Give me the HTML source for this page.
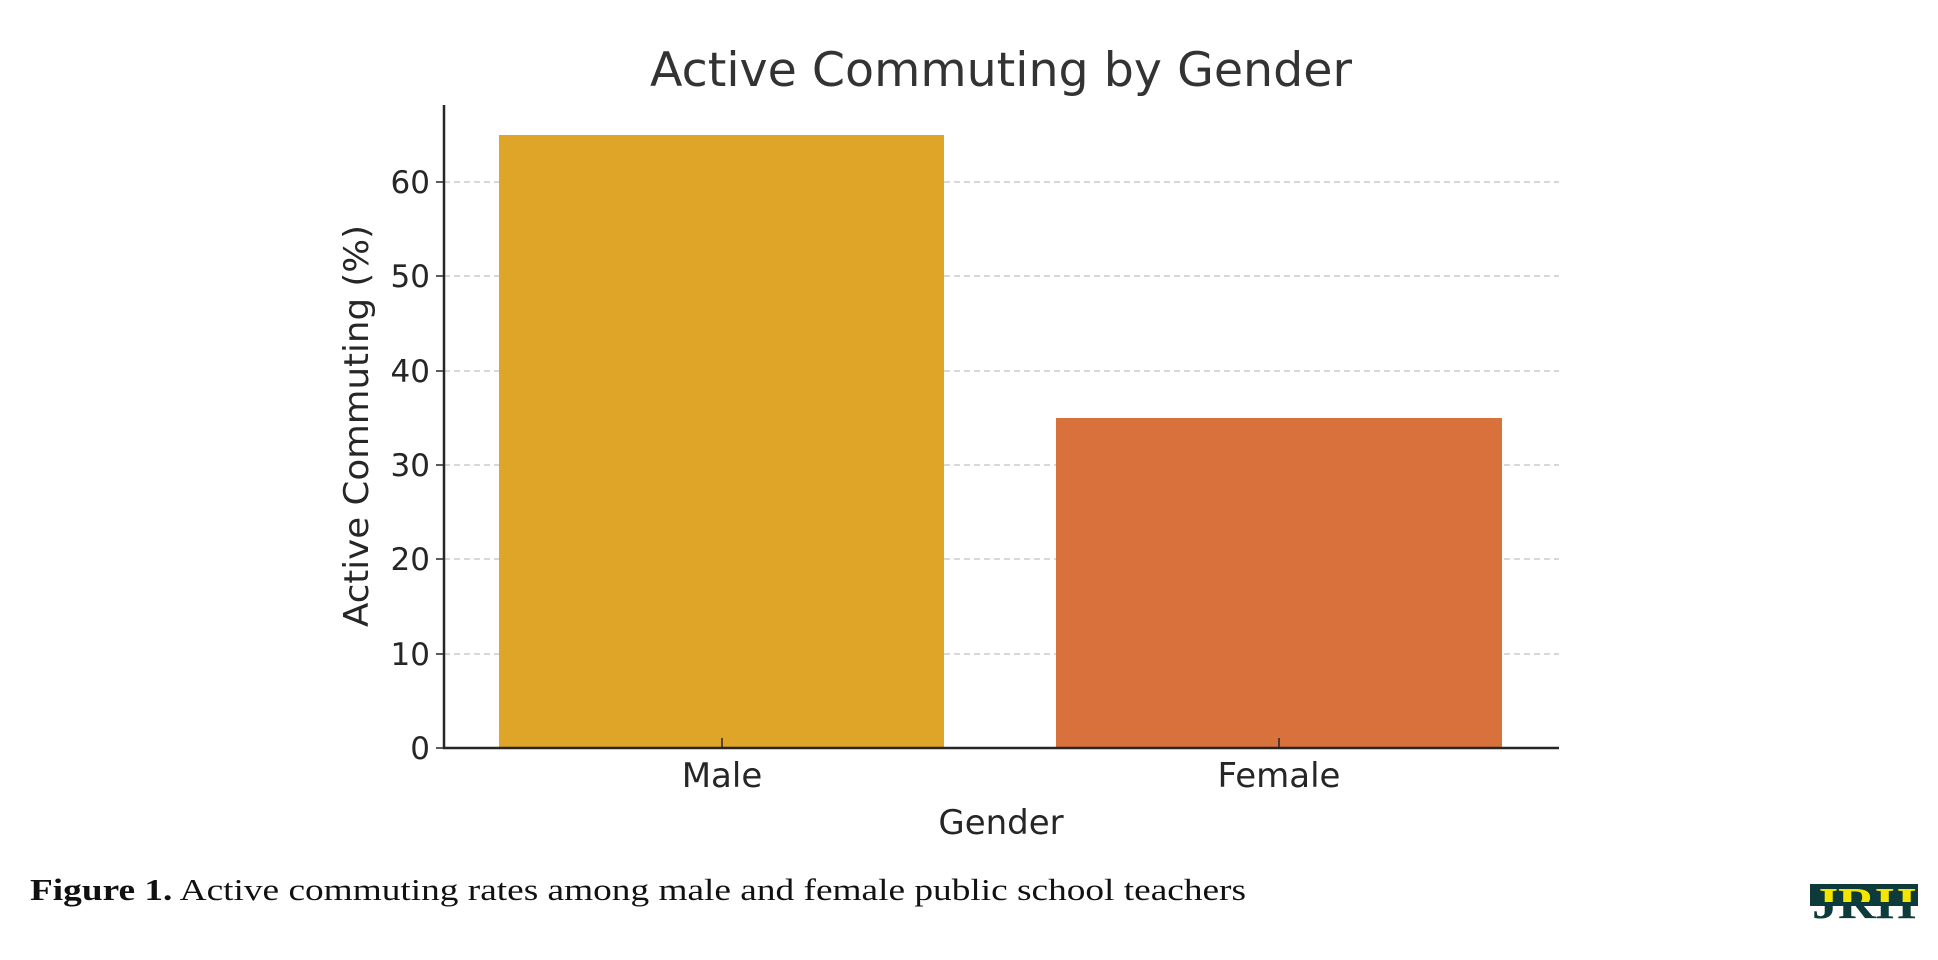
<!DOCTYPE html>
<html><head><meta charset="utf-8"><style>
html,body{margin:0;padding:0;background:#fff;}
body{width:1938px;height:960px;position:relative;overflow:hidden;}
</style></head><body>
<svg width="1938" height="960" viewBox="0 0 1938 960" style="position:absolute;left:0;top:0">
<defs>
<clipPath id="top"><rect x="1800" y="870" width="130" height="32"/></clipPath>
<clipPath id="bot"><rect x="1800" y="902" width="130" height="30"/></clipPath>
</defs>
<g font-family="DejaVu Sans, Liberation Sans, sans-serif" fill="#262626">
<text x="1001" y="86" font-size="47" text-anchor="middle" fill="#333" textLength="702" lengthAdjust="spacingAndGlyphs">Active Commuting by Gender</text>
<g stroke="#ccc" stroke-width="1.5" stroke-dasharray="6,4">
<line x1="444" x2="1559" y1="182" y2="182"/>
<line x1="444" x2="1559" y1="276" y2="276"/>
<line x1="444" x2="1559" y1="371" y2="371"/>
<line x1="444" x2="1559" y1="465" y2="465"/>
<line x1="444" x2="1559" y1="559" y2="559"/>
<line x1="444" x2="1559" y1="654" y2="654"/>
</g>
<rect x="499" y="135" width="445" height="613" fill="#DFA529"/>
<rect x="1056" y="418" width="446" height="330" fill="#D9713C"/>
<g stroke="#262626" stroke-width="2.5">
<line x1="444" y1="105" x2="444" y2="749"/>
<line x1="443" y1="748" x2="1559" y2="748"/>
</g>
<g stroke="#262626" stroke-width="1.5">
<line x1="436" x2="444" y1="182" y2="182"/><line x1="436" x2="444" y1="276" y2="276"/>
<line x1="436" x2="444" y1="371" y2="371"/><line x1="436" x2="444" y1="465" y2="465"/>
<line x1="436" x2="444" y1="559" y2="559"/><line x1="436" x2="444" y1="654" y2="654"/>
<line x1="436" x2="444" y1="748" y2="748"/>
<line x1="722" x2="722" y1="748" y2="738"/><line x1="1279" x2="1279" y1="748" y2="738"/>
</g>
<g font-size="31" text-anchor="end">
<text x="430" y="193">60</text><text x="430" y="287">50</text><text x="430" y="382">40</text>
<text x="430" y="476">30</text><text x="430" y="570">20</text><text x="430" y="665">10</text>
<text x="430" y="759">0</text>
</g>
<g font-size="34" text-anchor="middle">
<text x="722" y="787">Male</text><text x="1279" y="787">Female</text>
<text x="1001" y="834">Gender</text>
<text transform="translate(368,426) rotate(-90)" textLength="402" lengthAdjust="spacingAndGlyphs">Active Commuting (%)</text>
</g>
</g>
<text x="30" y="900" font-family="Liberation Serif, serif" font-size="31" fill="#111" textLength="1216" lengthAdjust="spacingAndGlyphs"><tspan font-weight="bold">Figure 1.</tspan> Active commuting rates among male and female public school teachers</text>
<rect x="1810" y="884" width="108" height="22" fill="#0d3b3b"/>
<text x="1864" y="918" clip-path="url(#top)" font-family="Liberation Serif, serif" font-weight="bold" font-size="44" text-anchor="middle" fill="#f5e600" textLength="104" lengthAdjust="spacingAndGlyphs">JRH</text>
<text x="1864" y="918" clip-path="url(#bot)" font-family="Liberation Serif, serif" font-weight="bold" font-size="44" text-anchor="middle" fill="#0d3b3b" textLength="104" lengthAdjust="spacingAndGlyphs">JRH</text>
</svg>
</body></html>
